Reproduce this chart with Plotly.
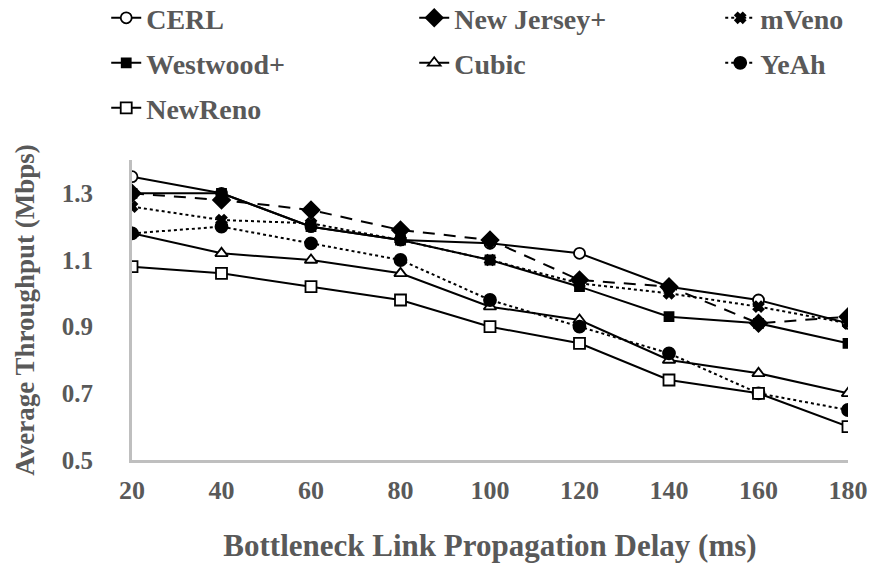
import plotly.graph_objects as go

delays = [20, 40, 60, 80, 100, 120, 140, 160, 180]

cerl = [1.35, 1.30, 1.20, 1.16, 1.15, 1.12, 1.02, 0.98, 0.91]
new_jersey = [1.30, 1.28, 1.25, 1.19, 1.16, 1.04, 1.02, 0.91, 0.93]
mveno = [1.26, 1.22, 1.21, 1.16, 1.10, 1.03, 1.00, 0.96, 0.91]
westwood = [1.30, 1.30, 1.20, 1.16, 1.10, 1.02, 0.93, 0.91, 0.85]
cubic = [1.18, 1.12, 1.10, 1.06, 0.96, 0.92, 0.80, 0.76, 0.70]
yeah = [1.18, 1.20, 1.15, 1.10, 0.98, 0.90, 0.82, 0.70, 0.65]
newreno = [1.08, 1.06, 1.02, 0.98, 0.90, 0.85, 0.74, 0.70, 0.60]

FONT = "Liberation Serif"
TEXT = "#595959"

# name, values, dash, marker symbol, marker fill, marker size, legend row, entry width
series = [
    ("CERL", cerl, "solid", "circle", "white", 11, "legend", 263),
    ("New Jersey+", new_jersey, "12px,9px", "diamond", "black", 13, "legend", 261),
    ("mVeno", mveno, "dot", "x", "black", 9, "legend", 110),
    ("Westwood+", westwood, "solid", "square", "black", 9, "legend2", 263),
    ("Cubic", cubic, "solid", "triangle-up", "white", 11, "legend2", 261),
    ("YeAh", yeah, "dot", "circle", "black", 12, "legend2", 110),
    ("NewReno", newreno, "solid", "square", "white", 11, "legend3", 263),
]

fig = go.Figure()
for name, vals, dash, sym, fill, size, leg, lw in series:
    fig.add_trace(go.Scatter(
        x=delays, y=vals, name=name, mode="lines+markers",
        line=dict(color="black", width=2, dash=dash),
        marker=dict(symbol=sym, size=size, color=fill,
                    line=dict(color="black", width=1.8)),
        legend=leg, legendwidth=lw,
    ))

legend_common = dict(
    orientation="h", xanchor="left", yanchor="middle",
    font=dict(family=FONT, size=28, color=TEXT, weight="bold"),
    bgcolor="rgba(0,0,0,0)", itemwidth=30,
)

fig.update_layout(
    width=877, height=569,
    margin=dict(l=132, r=29, t=160, b=109, autoexpand=False),
    paper_bgcolor="white", plot_bgcolor="white",
    font=dict(family=FONT, color=TEXT),
    legend=dict(x=-0.036, y=1.473, **legend_common),
    legend2=dict(x=-0.036, y=1.323, **legend_common),
    legend3=dict(x=-0.036, y=1.173, **legend_common),
    xaxis=dict(
        range=[20, 180], tickvals=delays, ticktext=[str(d) for d in delays],
        showline=True, linecolor="#bfbfbf", linewidth=3, showgrid=False,
        zeroline=False, ticks="", ticklabelstandoff=5,
        tickfont=dict(family=FONT, size=26, color=TEXT, weight="bold"),
        title=dict(text="Bottleneck Link Propagation Delay (ms)", standoff=31,
                   font=dict(family=FONT, size=31, color=TEXT, weight="bold")),
    ),
    yaxis=dict(
        range=[0.5, 1.4], tickvals=[0.5, 0.7, 0.9, 1.1, 1.3],
        ticktext=["0.5", "0.7", "0.9", "1.1", "1.3"],
        showline=True, linecolor="#bfbfbf", linewidth=3, showgrid=False,
        zeroline=False, ticks="", ticklabelstandoff=31,
        tickfont=dict(family=FONT, size=25, color=TEXT, weight="bold"),
        title=dict(text="Average Throughput (Mbps)", standoff=20,
                   font=dict(family=FONT, size=27, color=TEXT, weight="bold")),
    ),
)

fig.write_html("out.html")
